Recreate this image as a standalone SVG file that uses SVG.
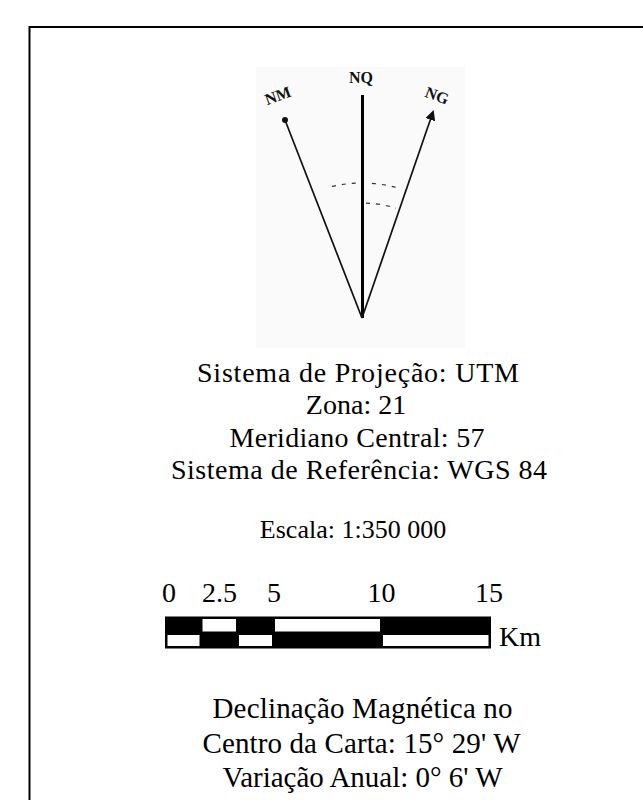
<svg xmlns="http://www.w3.org/2000/svg" width="643" height="800" viewBox="0 0 643 800">
<style>
.t{font-family:"Liberation Serif","Times New Roman",serif;fill:#000;text-anchor:middle}
.m{font-size:28px}
.d{font-size:29px}
.s{font-size:26px}
.lbl{font-family:"Liberation Serif","Times New Roman",serif;font-weight:bold;font-size:16px;fill:#111;text-anchor:middle}
.arc{fill:none;stroke:#333;stroke-width:1.2;stroke-dasharray:4 6}
</style>
<defs>
<marker id="ah" viewBox="0 0 10 10" refX="8" refY="5" markerWidth="6" markerHeight="6" orient="auto"><path d="M0,0 L10,5 L0,10 z" fill="#111"/></marker>
</defs>
<rect width="643" height="800" fill="#fff"/>
<path d="M29.5,800 V27 H643" fill="none" stroke="#000" stroke-width="2"/>
<g id="compass">
<rect x="256" y="67" width="209" height="281" fill="#fafafa"/>
<text class="lbl" x="361" y="83">NQ</text>
<text class="lbl" x="278" y="101" transform="rotate(-20 278 96)">NM</text>
<text class="lbl" x="437" y="101" transform="rotate(20 437 96)">NG</text>
</g>
<g id="connectors">
<line x1="362.5" y1="95" x2="362.5" y2="318" stroke="#000" stroke-width="3"/>
<line x1="362" y1="318" x2="285" y2="120" stroke="#111" stroke-width="1.7"/>
<circle cx="285" cy="120" r="3" fill="#111"/>
<line x1="362" y1="318" x2="433" y2="112" stroke="#111" stroke-width="1.7" marker-end="url(#ah)"/>
<path class="arc" d="M332,186.4 A135,135 0 0 1 358,183.1"/>
<path class="arc" d="M372,183.4 A135,135 0 0 1 398,187.9"/>
<path class="arc" d="M366,203.1 A115,115 0 0 1 396,208.1"/>
</g>
<g id="info">
<text class="t m" x="358" y="381.5" textLength="322" lengthAdjust="spacing">Sistema de Projeção: UTM</text>
<text class="t m" x="356" y="414">Zona: 21</text>
<text class="t m" x="357" y="447" textLength="255" lengthAdjust="spacing">Meridiano Central: 57</text>
<text class="t m" x="359" y="479" textLength="376" lengthAdjust="spacing">Sistema de Referência: WGS 84</text>
<text class="t s" x="353" y="538">Escala: 1:350 000</text>
</g>
<g id="scalebar">
<text class="t m" x="169" y="602">0</text>
<text class="t m" x="219.5" y="602">2.5</text>
<text class="t m" x="274" y="602">5</text>
<text class="t m" x="381.5" y="602">10</text>
<text class="t m" x="489" y="602">15</text>
<rect x="165" y="616.5" width="326" height="32" fill="#000"/>
<rect x="202.5" y="619" width="33.5" height="12.5" fill="#fff"/>
<rect x="275" y="619" width="105" height="12.5" fill="#fff"/>
<rect x="167.5" y="635" width="32" height="11" fill="#fff"/>
<rect x="239" y="635" width="33" height="11" fill="#fff"/>
<rect x="383" y="635" width="105.5" height="11" fill="#fff"/>
<text class="t m" x="520" y="646">Km</text>
</g>
<g id="declination">
<text class="t d" x="362.5" y="718" textLength="300" lengthAdjust="spacing">Declinação Magnética no</text>
<text class="t d" x="361.5" y="753" textLength="318" lengthAdjust="spacing">Centro da Carta: 15° 29' W</text>
<text class="t d" x="362.5" y="787" textLength="280" lengthAdjust="spacing">Variação Anual: 0° 6' W</text>
</g>
</svg>
